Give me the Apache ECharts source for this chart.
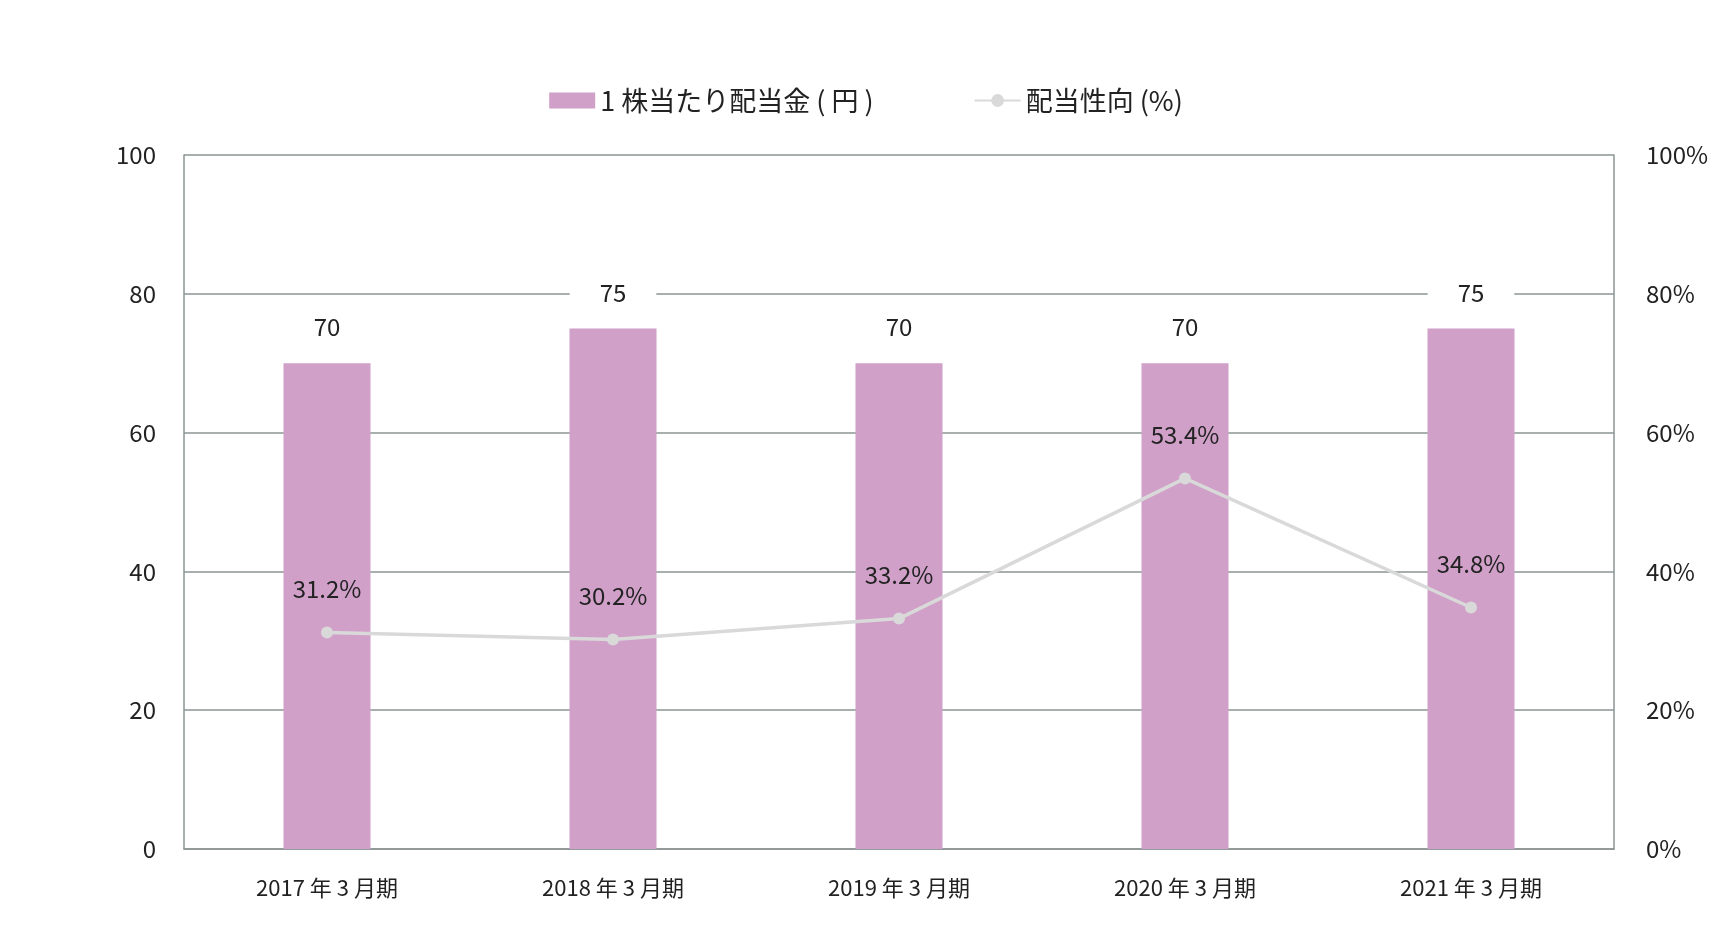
<!DOCTYPE html>
<html><head><meta charset="utf-8">
<script src="https://cdn.jsdelivr.net/npm/echarts@6/dist/echarts.min.js"></script>
<style>html,body{margin:0;padding:0;background:#fff}#c{width:1732px;height:946px}</style>
</head><body><div id="c"></div>
<script>
const categories = ['2017 年 3 月期','2018 年 3 月期','2019 年 3 月期','2020 年 3 月期','2021 年 3 月期'];
const dividend = [70, 75, 70, 70, 75];
const payoutRatio = [31.2, 30.2, 33.2, 53.4, 34.8];
const leftTicks = [0, 20, 40, 60, 80, 100];
const rightTicks = [0, 20, 40, 60, 80, 100];

const font = '"Noto Sans CJK JP", "Noto Sans", sans-serif';
const chart = echarts.init(document.getElementById('c'));
chart.setOption({
  textStyle: {fontFamily: font},
  legend: {
    top: 82, left: 'center', itemGap: 100, itemWidth: 46, itemHeight: 16,
    textStyle: {fontSize: 27, color: '#222', fontFamily: font},
    data: [{name: '1 株当たり配当金 ( 円 )', icon: 'rect'}, {name: '配当性向 (%)'}]
  },
  grid: {left: 184, right: 110 + 8, top: 155, bottom: 91 + 6},
  xAxis: {
    type: 'category', data: categories,
    axisLine: {lineStyle: {color: '#8b9494', width: 1.5}},
    axisTick: {show: false},
    axisLabel: {fontSize: 22, color: '#222', margin: 28}
  },
  yAxis: [
    {type: 'value', min: leftTicks[0], max: leftTicks[leftTicks.length-1], interval: 20,
     axisLine: {show: true, lineStyle: {color: '#8b9494', width: 1.5}},
     axisLabel: {fontSize: 24, color: '#222', margin: 28},
     splitLine: {lineStyle: {color: '#8b9494', width: 1.5}}},
    {type: 'value', min: rightTicks[0], max: rightTicks[rightTicks.length-1], interval: 20,
     axisLine: {show: true, lineStyle: {color: '#8b9494', width: 1.5}},
     axisLabel: {fontSize: 24, color: '#222', margin: 32, formatter: '{value}%'},
     splitLine: {show: false}}
  ],
  series: [
    {name: '1 株当たり配当金 ( 円 )', type: 'bar', data: dividend, barWidth: 87,
     itemStyle: {color: '#d0a0c8'},
     label: {show: true, position: 'top', distance: 20, fontSize: 24, color: '#222',
             backgroundColor: '#fff', padding: [4, 30]}},
    {name: '配当性向 (%)', type: 'line', yAxisIndex: 1, data: payoutRatio,
     symbol: 'circle', symbolSize: 12,
     lineStyle: {color: '#d9d9d9', width: 3.5}, itemStyle: {color: '#d9d9d9'},
     label: {show: true, position: 'top', distance: 26, fontSize: 24, color: '#222',
             formatter: p => p.value.toFixed(1) + '%'}}
  ]
});
</script></body></html>
